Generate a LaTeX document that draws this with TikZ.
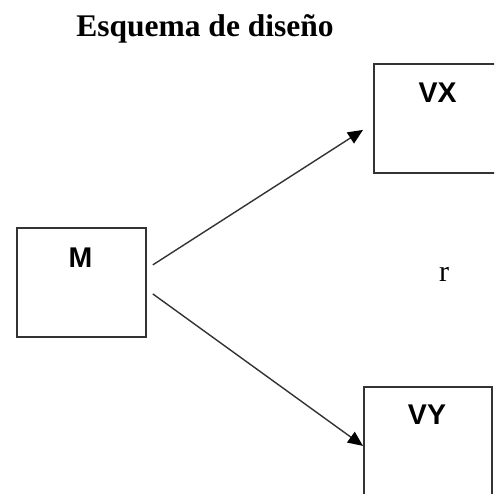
\documentclass[tikz,border=0pt]{standalone}
\usepackage{fontspec}
\setmainfont{Liberation Serif}
\newfontfamily\boxfont{Liberation Sans}
\usetikzlibrary{arrows.meta,calc}
\begin{document}
\begin{tikzpicture}[x=1pt,y=-1pt,
  blockbox/.style={draw=black!80, line width=1.8pt, minimum width=129pt, minimum height=109pt, inner sep=0pt, anchor=north west},
  boxlabel/.style={font=\boxfont\bfseries\fontsize{28.5}{31}\selectfont, inner sep=0pt},
  link/.style={draw=black!80, line width=1.4pt, -{Triangle[length=15pt,width=13pt,fill=black,color=black]}}]
\useasboundingbox (0,0) rectangle (494,494);
\clip (0,0) rectangle (494,494);
\fill[white] (0,0) rectangle (494,494);
\node[inner sep=0pt, anchor=base, font=\bfseries\fontsize{31.5}{34}\selectfont] (title) at (205,37) {Esquema de diseño};
\node[blockbox] (M) at (16,227) {};
\node[blockbox] (VX) at (373,63) {};
\node[blockbox, minimum width=128pt, minimum height=115pt] (VY) at (363,386) {};
\node[boxlabel] (tM) at (80.5,258) {M};
\node[boxlabel] (tVX) at (437.5,93) {VX};
\node[boxlabel] (tVY) at (427,415) {VY};
\node[inner sep=0pt, font=\fontsize{30}{32}\selectfont] (r) at (444,274) {r};
\coordinate (s1) at ($(M.east)+(6,-17.5)$);
\coordinate (s2) at ($(M.east)+(6,11.5)$);
\coordinate (e1) at ($(VX.west)+(-10,11.5)$);
\coordinate (e2) at ($(VY.west)+(0,1.5)$);
\draw[link] (s1) -- (e1);
\draw[link] (s2) -- (e2);
\end{tikzpicture}
\end{document}
